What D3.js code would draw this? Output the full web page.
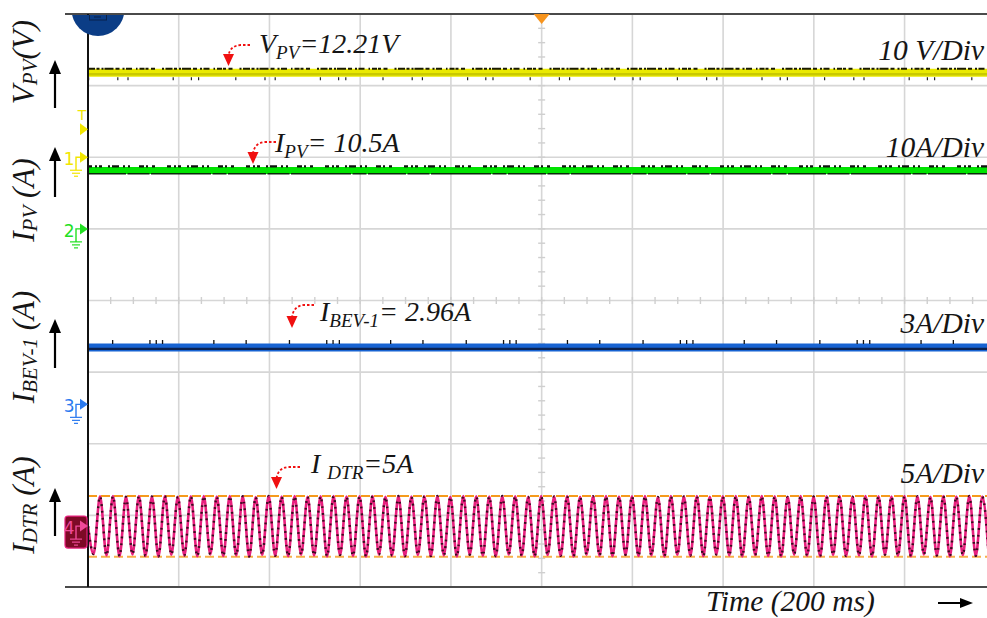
<!DOCTYPE html>
<html><head><meta charset="utf-8">
<script src="https://cdn.jsdelivr.net/npm/d3@7"></script>
<style>
html,body{margin:0;padding:0;background:#fff;}
svg{display:block;}
.lbl{font-family:"Liberation Serif","Times New Roman",serif;font-style:italic;fill:#151515;}
</style></head><body>
<svg id="c" width="987" height="618"></svg>
<script>
// ---------------- data ----------------
const timeGridMs = [0, 200, 400, 600, 800, 1000, 1200, 1400, 1600, 1800, 2000];
const divGrid = [-4, -3, -2, -1, 0, 1, 2, 3, 4];
const dcTimesMs = [0, 500, 1000, 1500, 2000];
const vPvVolts = [11.8, 11.8, 11.8, 11.8, 11.8];
const iPvAmps = [8.15, 8.15, 8.15, 8.15, 8.15];
const iBevAmps = [2.38, 2.38, 2.38, 2.38, 2.38];
const iDtrFirstPeakMs = 26.5;
const iDtrPeriodMs = 28.6;
const iDtrPeakAmps = [2.08,2.10,2.05,2.10,2.07,2.10,2.04,2.09,2.10,2.06,2.10,2.08,2.03,2.10,2.07,2.10,2.05,2.09,2.10,2.06,2.08,2.10,2.04,2.10,2.07,2.09,2.10,2.05,2.10,2.08,2.06,2.10,2.09,2.04,2.10,2.07,2.10,2.05,2.09,2.10,2.06,2.08,2.10,2.03,2.10,2.07,2.10,2.05,2.09,2.10,2.06,2.10,2.08,2.04,2.10,2.07,2.09,2.10,2.05,2.10,2.08,2.06,2.10,2.09,2.04,2.10,2.07,2.10,2.06];
const iDtrTroughAmps = [-1.95,-2.05,-2.10,-1.98,-2.08,-2.12,-2.00,-2.06,-2.10,-1.97,-2.09,-2.04,-2.12,-2.00,-2.07,-2.10,-1.99,-2.05,-2.11,-2.02,-2.08,-2.12,-1.98,-2.06,-2.10,-2.01,-2.09,-2.04,-2.12,-2.00,-2.07,-2.10,-1.98,-2.05,-2.11,-2.02,-2.08,-2.12,-1.99,-2.06,-2.10,-2.01,-2.09,-2.04,-2.12,-2.00,-2.07,-2.10,-1.98,-2.05,-2.11,-2.02,-2.08,-2.12,-1.99,-2.06,-2.10,-2.01,-2.09,-2.04,-2.12,-2.00,-2.07,-2.10,-1.98,-2.05,-2.11,-2.02,-2.08,-2.10];
const iDtrCursorAmps = [2.1, -2.13];
const triggerLevelVolts = 3.9;
const channelNames = ["1", "2", "3", "4"];
const scaleLabels = ["10 V/Div", "10A/Div", "3A/Div", "5A/Div"];
const perDiv = [10, 10, 3, 5];

// ---------------- layout ----------------
const W = 987, H = 618;
const plot = {left: 88, top: 14, bottom: 587, right: 995.3};
const groundDiv = [2.0, 1.0, -1.45, -3.15];   // channel offsets (divisions)

const svg = d3.select("#c");
const x = d3.scaleLinear().domain([0, 2000]).range([plot.left, plot.right]);
const yDiv = d3.scaleLinear().domain([-4, 4]).range([plot.bottom, plot.top]);
const yCh = groundDiv.map((g, i) => d3.scaleLinear()
  .domain([(-4 - g) * perDiv[i], (4 - g) * perDiv[i]]).range([plot.bottom, plot.top]));

const defs = svg.append("defs");
defs.append("clipPath").attr("id", "clip")
  .append("rect").attr("x", plot.left).attr("y", plot.top)
  .attr("width", W - plot.left).attr("height", plot.bottom - plot.top);
defs.append("clipPath").attr("id", "clip2")
  .append("rect").attr("x", 60).attr("y", plot.top + 1).attr("width", 100).attr("height", 60);

const gridG = svg.append("g").attr("clip-path", "url(#clip)");
gridG.selectAll("line.v").data(timeGridMs).join("line")
  .attr("x1", d => x(d)).attr("x2", d => x(d))
  .attr("y1", plot.top).attr("y2", plot.bottom)
  .attr("stroke", "#d6d6d6").attr("stroke-width", 1.6);
gridG.selectAll("line.h").data(divGrid).join("line")
  .attr("x1", plot.left).attr("x2", W)
  .attr("y1", d => yDiv(d)).attr("y2", d => yDiv(d))
  .attr("stroke", "#d6d6d6").attr("stroke-width", 1.6);
const hMinor = d3.range(0, 2001, 50);
gridG.selectAll("line.hm").data(hMinor).join("line")
  .attr("x1", d => x(d)).attr("x2", d => x(d))
  .attr("y1", yDiv(0) - 3.5).attr("y2", yDiv(0) + 3.5)
  .attr("stroke", "#cfcfcf").attr("stroke-width", 1.4);
const vMinor = d3.range(-4, 4.001, 0.2);
gridG.selectAll("line.vm").data(vMinor).join("line")
  .attr("x1", x(1000) - 3.5).attr("x2", x(1000) + 3.5)
  .attr("y1", d => yDiv(d)).attr("y2", d => yDiv(d))
  .attr("stroke", "#cfcfcf").attr("stroke-width", 1.4);

const traces = svg.append("g").attr("clip-path", "url(#clip)");
const dcLine = (ch, off) => d3.line().x((d, i) => x(dcTimesMs[i])).y(d => yCh[ch](d) + off);

// ---- CH1 yellow
traces.append("path").datum(vPvVolts).attr("d", dcLine(0, 0)).attr("fill", "none")
  .attr("stroke", "#eaea00").attr("stroke-width", 8);
traces.append("path").datum(vPvVolts).attr("d", dcLine(0, 1.5)).attr("fill", "none")
  .attr("stroke", "#c9c900").attr("stroke-width", 2.5);
traces.append("path").datum(vPvVolts).attr("d", dcLine(0, -4)).attr("fill", "none")
  .attr("stroke", "#1a1a00").attr("stroke-width", 2.2)
  .attr("stroke-dasharray", "7,1.5,3,2,2,1,9,2,4,3,2,1.5,6,4,1.5,2,5,1,3,2.5,4,7,2,1.5");
traces.append("path").datum(vPvVolts).attr("d", dcLine(0, 6)).attr("fill", "none")
  .attr("stroke", "#222").attr("stroke-width", 3)
  .attr("stroke-dasharray", "1.2,28,1.2,9,1.2,44,1.2,17,1.2,6,1.2,36");

// ---- CH2 green
traces.append("path").datum(iPvAmps).attr("d", dcLine(1, 0)).attr("fill", "none")
  .attr("stroke", "#00e400").attr("stroke-width", 7);
traces.append("path").datum(iPvAmps).attr("d", dcLine(1, 3.2)).attr("fill", "none")
  .attr("stroke", "#0a2a0a").attr("stroke-width", 1.6)
  .attr("stroke-dasharray", "38,1.5,22,1.5,60,1.5,14,1.5");
traces.append("path").datum(iPvAmps).attr("d", dcLine(1, -4.2)).attr("fill", "none")
  .attr("stroke", "#111").attr("stroke-width", 2.2)
  .attr("stroke-dasharray", "4,3,2,2,3,6,2,2,7,4,2,3,2,9,5,2,2,4,3,12");

// ---- CH3 blue
traces.append("path").datum(iBevAmps).attr("d", dcLine(2, 0)).attr("fill", "none")
  .attr("stroke", "#1763d2").attr("stroke-width", 8);
traces.append("path").datum(iBevAmps).attr("d", dcLine(2, 1.3)).attr("fill", "none")
  .attr("stroke", "#0b2250").attr("stroke-width", 2.2);
traces.append("path").datum(iBevAmps).attr("d", dcLine(2, -5.5)).attr("fill", "none")
  .attr("stroke", "#111").attr("stroke-width", 4)
  .attr("stroke-dasharray", "0,24,1.3,36,1.3,5,1.3,5,1.3,50,1.3,31,1.3,18");

// ---- CH4 pink sine (alternating troughs/peaks)
const dtrPts = [{t: 0, v: 0}];
iDtrTroughAmps.forEach((v, k) => {
  dtrPts.push({t: iDtrFirstPeakMs - iDtrPeriodMs / 2 + k * iDtrPeriodMs, v: v});
  if (k < iDtrPeakAmps.length) dtrPts.push({t: iDtrFirstPeakMs + k * iDtrPeriodMs, v: iDtrPeakAmps[k]});
});
const dtrLine = d3.line().x(d => x(d.t)).y(d => yCh[3](d.v)).curve(d3.curveMonotoneX);
traces.selectAll("line.cur").data(iDtrCursorAmps).join("line")
  .attr("x1", plot.left).attr("x2", W)
  .attr("y1", d => yCh[3](d)).attr("y2", d => yCh[3](d))
  .attr("stroke", (d, i) => i === 0 ? "#f59a1c" : "#f7b04a").attr("stroke-width", 2)
  .attr("stroke-dasharray", "9,4");
traces.append("path").datum(dtrPts).attr("d", dtrLine).attr("fill", "none")
  .attr("stroke", "#e8207e").attr("stroke-width", 2.6);
traces.append("path").datum(dtrPts).attr("d", dtrLine).attr("fill", "none")
  .attr("stroke", "#3a0a1e").attr("stroke-width", 2.4)
  .attr("stroke-dasharray", "1.8,5");

// ---------------- frame ----------------
svg.append("line").attr("x1", 65).attr("x2", W).attr("y1", plot.top).attr("y2", plot.top)
  .attr("stroke", "#4a4a4a").attr("stroke-width", 2);
svg.append("line").attr("x1", 65).attr("x2", W).attr("y1", plot.bottom).attr("y2", plot.bottom)
  .attr("stroke", "#4a4a4a").attr("stroke-width", 2);
svg.append("line").attr("x1", plot.left).attr("x2", plot.left).attr("y1", plot.top).attr("y2", plot.bottom)
  .attr("stroke", "#111").attr("stroke-width", 2);

const badge = svg.append("g").attr("clip-path", "url(#clip2)");
badge.append("circle").attr("cx", 98).attr("cy", 9.6).attr("r", 26.4).attr("fill", "#0b3d86");
badge.append("rect").attr("x", 89.5).attr("y", 12).attr("width", 17).attr("height", 8)
  .attr("fill", "none").attr("stroke", "#08214a").attr("stroke-width", 1);
badge.append("line").attr("x1", 94).attr("x2", 101).attr("y1", 17).attr("y2", 17)
  .attr("stroke", "#08214a").attr("stroke-width", 1);

svg.append("path")
  .attr("d", `M${x(1000) - 8},${plot.top} L${x(1000) + 8},${plot.top} L${x(1000)},${plot.top + 10}Z`)
  .attr("fill", "#f7941d");

// ---------------- channel markers ----------------
function groundMarker(ch, y, col) {
  const g = svg.append("g");
  g.append("path").attr("d", `M76,${y + 13} V${y} H80`).attr("fill", "none")
    .attr("stroke", col).attr("stroke-width", 1.4);
  g.append("path").attr("d", `M80,${y - 5.5} L88,${y} L80,${y + 5.5}Z`).attr("fill", col);
  [[70, 82], [72, 80], [74, 78]].forEach((s, i) =>
    g.append("line").attr("x1", s[0]).attr("x2", s[1]).attr("y1", y + 13 + i * 3).attr("y2", y + 13 + i * 3)
      .attr("stroke", col).attr("stroke-width", 1.2));
  g.append("text").attr("x", 74.5).attr("y", y + 8).attr("text-anchor", "end")
    .attr("font-family", "DejaVu Sans, sans-serif").attr("font-size", 17).attr("fill", col)
    .text(channelNames[ch]);
}
const g4y = yCh[3](0);
svg.append("rect").attr("x", 65).attr("y", g4y - 10).attr("width", 22).attr("height", 32).attr("rx", 3)
  .attr("fill", "#7d0a26").attr("stroke", "#e8207e").attr("stroke-width", 1.2);
groundMarker(0, yCh[0](0), "#f2e600");
groundMarker(1, yCh[1](0), "#22e022");
groundMarker(2, yCh[2](0), "#2a7af0");
groundMarker(3, g4y, "#f04a9a");
const ty = yCh[0](triggerLevelVolts);
svg.append("path").attr("d", `M80,${ty - 6} L88,${ty} L80,${ty + 6}Z`).attr("fill", "#f2e600");
svg.append("text").attr("x", 82).attr("y", ty - 9).attr("text-anchor", "middle")
  .attr("font-family", "DejaVu Sans, sans-serif").attr("font-size", 14).attr("fill", "#f2e600").text("T");

// ---------------- texts ----------------
function richText(parent, parts, size, subDrop) {
  const t = parent.append("text").attr("class", "lbl").attr("font-size", size);
  let shift = 0;
  const drop = size * (subDrop == null ? 0.22 : subDrop);
  parts.forEach(p => {
    const s = t.append("tspan").text(p.t);
    if (p.sub) { s.attr("font-size", size * 0.68).attr("dy", drop - shift); shift = drop; }
    else { s.attr("dy", -shift); shift = 0; }
  });
  return t;
}
const leftTitles = [
  {y: 62, parts: [{t: "V"}, {t: "PV", sub: 1}, {t: "(V)"}]},
  {y: 200, parts: [{t: "I"}, {t: "PV", sub: 1}, {t: " (A)"}]},
  {y: 347, parts: [{t: "I"}, {t: "BEV-1", sub: 1}, {t: " (A)"}]},
  {y: 505, parts: [{t: "I"}, {t: "DTR", sub: 1}, {t: " (A)"}]}
];
leftTitles.forEach(d => {
  richText(svg, d.parts, 31, 0.1).attr("text-anchor", "middle")
    .attr("transform", `translate(34,${d.y}) rotate(-90)`);
});
[[60, 108], [147, 197], [319, 368], [488, 536]].forEach(a => {
  svg.append("line").attr("x1", 55).attr("x2", 55).attr("y1", a[1]).attr("y2", a[0] + 10)
    .attr("stroke", "#000").attr("stroke-width", 2.2);
  svg.append("path").attr("d", `M49,${a[0] + 14} L55,${a[0]} L61,${a[0] + 14}Z`).attr("fill", "#000");
});
const scaleY = [60, 157, 333, 483];
scaleLabels.forEach((s, i) => {
  svg.append("text").attr("class", "lbl").attr("x", 984).attr("y", scaleY[i])
    .attr("text-anchor", "end").attr("font-size", 29.5).text(s);
});
const notes = [
  {x: 259, y: 53, parts: [{t: "V"}, {t: "PV", sub: 1}, {t: "=12.21V"}], from: [250, 45], tip: [228.5, 66]},
  {x: 275, y: 152, parts: [{t: "I"}, {t: "PV", sub: 1}, {t: "= 10.5A"}], from: [276, 142], tip: [253, 164]},
  {x: 320, y: 321, parts: [{t: "I"}, {t: "BEV-1", sub: 1}, {t: "= 2.96A"}], from: [314, 305], tip: [292, 328]},
  {x: 311, y: 473, parts: [{t: "I "}, {t: "DTR", sub: 1}, {t: "=5A"}], from: [300, 467], tip: [276.5, 489]}
];
notes.forEach(n => {
  richText(svg, n.parts, 28).attr("x", n.x).attr("y", n.y);
  const [fx, fy] = n.from, [tx, ty2] = n.tip;
  svg.append("path")
    .attr("d", `M${fx},${fy} L${tx + 12},${fy} Q${tx + 1},${fy + 1} ${tx},${ty2 - 10}`)
    .attr("fill", "none").attr("stroke", "#f01010").attr("stroke-width", 1.8)
    .attr("stroke-dasharray", "2.5,2");
  svg.append("path").attr("d", `M${tx - 5.5},${ty2 - 12} L${tx + 5.5},${ty2 - 12} L${tx},${ty2}Z`)
    .attr("fill", "#f01010");
});
svg.append("text").attr("class", "lbl").attr("x", 706).attr("y", 611).attr("font-size", 29.5)
  .text("Time (200 ms)");
svg.append("line").attr("x1", 938).attr("x2", 962).attr("y1", 603).attr("y2", 603)
  .attr("stroke", "#000").attr("stroke-width", 2);
svg.append("path").attr("d", "M960,598 L973,603 L960,608Z").attr("fill", "#000");
</script>
</body></html>
